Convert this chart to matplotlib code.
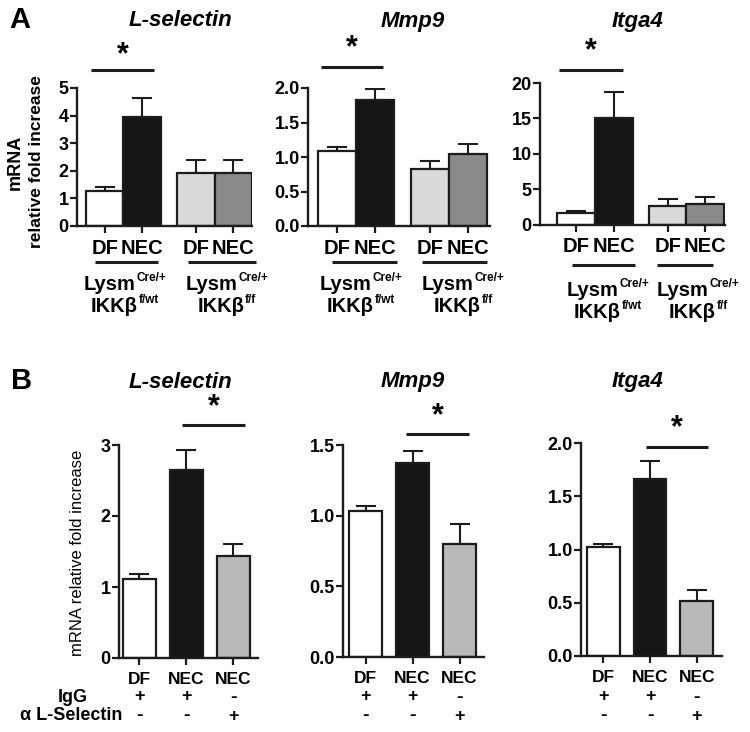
import matplotlib
matplotlib.use('Agg')
import matplotlib.pyplot as plt
import matplotlib.transforms as mtransforms
import numpy as np

plt.rcParams['font.family'] = ['Liberation Sans', 'DejaVu Sans']

# ---------------- data ----------------
genes = ['L-selectin', 'Mmp9', 'Itga4']

a_categories = ['DF', 'NEC', 'DF', 'NEC']
a_group_base = [('Lysm', 'IKKβ'), ('Lysm', 'IKKβ')]
a_group_sup = [('Cre/+', 'f/wt'), ('Cre/+', 'f/f')]
a_lselectin = [1.27, 3.94, 1.91, 1.93]
a_lselectin_err = [0.14, 0.71, 0.49, 0.47]
a_mmp9 = [1.08, 1.83, 0.83, 1.05]
a_mmp9_err = [0.06, 0.15, 0.11, 0.14]
a_itga4 = [1.73, 15.1, 2.67, 2.95]
a_itga4_err = [0.27, 3.7, 0.93, 1.02]
a_yticks = [[0, 1, 2, 3, 4, 5], [0.0, 0.5, 1.0, 1.5, 2.0], [0, 5, 10, 15, 20]]
a_ytick_fmt = ['{:.0f}', '{:.1f}', '{:.0f}']

b_categories = ['DF', 'NEC', 'NEC']
b_igg = ['+', '+', '-']
b_anti = ['-', '-', '+']
b_lselectin = [1.11, 2.65, 1.43]
b_lselectin_err = [0.08, 0.28, 0.17]
b_mmp9 = [1.036, 1.37, 0.80]
b_mmp9_err = [0.03, 0.09, 0.14]
b_itga4 = [1.02, 1.66, 0.52]
b_itga4_err = [0.03, 0.17, 0.10]
b_yticks = [[0, 1, 2, 3], [0.0, 0.5, 1.0, 1.5], [0.0, 0.5, 1.0, 1.5, 2.0]]
b_ytick_fmt = ['{:.0f}', '{:.1f}', '{:.1f}']

a_colors = ['#ffffff', '#151515', '#d9d9d9', '#8a8a8a']
b_colors = ['#ffffff', '#151515', '#b9b9b9']
EDGE = '#1c1c1c'

# ---------------- layout ----------------
W, H = 750, 732
fig = plt.figure(figsize=(W / 100, H / 100), dpi=100)
fig.patch.set_facecolor('white')
renderer = fig.canvas.get_renderer()


def fx(px):
    return px / W


def fy(py):
    return 1 - py / H


def ax_px(left, top, right, bottom):
    return fig.add_axes([fx(left), fy(bottom), (right - left) / W, (bottom - top) / H])


def style(ax, xlim, ylim, yticks, fmt, xpos, xlabels, xfs, yfs, xpad):
    ax.set_xlim(*xlim)
    ax.set_ylim(*ylim)
    for s in ['top', 'right']:
        ax.spines[s].set_visible(False)
    for s in ['left', 'bottom']:
        ax.spines[s].set_linewidth(1.7)
        ax.spines[s].set_color(EDGE)
    ax.set_yticks(yticks)
    ax.set_yticklabels([fmt.format(v) for v in yticks], fontsize=yfs, fontweight='bold')
    ax.set_xticks(xpos)
    ax.set_xticklabels(xlabels, fontsize=xfs, fontweight='bold')
    ax.tick_params(axis='both', direction='out', length=5, width=1.6, color=EDGE)
    ax.tick_params(axis='x', pad=xpad)
    ax.tick_params(axis='y', pad=1)
    ax.patch.set_alpha(0)


def bars(ax, xpos, vals, errs, colors, width):
    ax.bar(xpos, vals, width=width, color=colors, edgecolor=EDGE, linewidth=1.6, zorder=2)
    ax.errorbar(xpos, vals, yerr=[np.zeros(len(vals)), errs], fmt='none', ecolor=EDGE,
                elinewidth=1.5, capsize=7, capthick=1.5, zorder=1)


def sig(ax, x1, x2, y, ystar):
    ax.plot([x1, x2], [y, y], color=EDGE, lw=2.2, clip_on=False, solid_capstyle='butt')
    ax.text((x1 + x2) / 2, ystar, '*', ha='center', va='center', fontsize=22,
            fontweight='bold', clip_on=False)


def sup_label(ax, xdata, ypx, base, sup, fb=14.5, fs=8.5, raise_px=6):
    cx = ax.transData.transform((xdata, 0))[0]
    t1 = fig.text(0, fy(ypx), base, fontsize=fb, fontweight='bold', ha='left', va='center')
    t2 = fig.text(0, fy(ypx - raise_px), sup, fontsize=fs, fontweight='bold',
                  ha='left', va='center')
    w1 = t1.get_window_extent(renderer).width
    w2 = t2.get_window_extent(renderer).width
    x0 = cx - (w1 + 1 + w2) / 2
    t1.set_x(x0 / W)
    t2.set_x((x0 + w1 + 1) / W)


# ---------------- Panel A ----------------
a_pos = [0, 1, 2.43, 3.43]
a_vals = [a_lselectin, a_mmp9, a_itga4]
a_errs = [a_lselectin_err, a_mmp9_err, a_itga4_err]
a_boxes = [(77, 88, 252, 226), (308, 88, 490, 226), (540, 83, 725, 225)]
a_xlims = [(-0.74, 3.93), (-0.76, 4.0), (-0.95, 3.95)]
a_ylims = [(0, 5), (0, 2), (0, 20)]
a_sig = [(-0.37, 1.31, 5.65, 6.2), (-0.42, 1.20, 2.30, 2.57), (-0.45, 1.25, 21.8, 24.5)]
a_lines = [[(-0.26, 1.42), (2.22, 4.03)], [(-0.13, 1.57), (2.22, 3.92)],
           [(-0.10, 1.57), (2.15, 3.64)]]
a_textx = [(0.54, 3.26), (0.63, 3.30), (0.85, 3.24)]
a_texty = [(262, 284, 306), (262, 284, 306), (265, 290, 312)]
a_title_x = [180, 413, 638]

for i in range(3):
    ax = ax_px(*a_boxes[i])
    bars(ax, a_pos, a_vals[i], a_errs[i], a_colors, 1.0)
    style(ax, a_xlims[i], a_ylims[i], a_yticks[i], a_ytick_fmt[i], a_pos,
          a_categories, 14.5, 13, 4)
    x1, x2, y, ys = a_sig[i]
    sig(ax, x1, x2, y, ys)
    tr = mtransforms.blended_transform_factory(ax.transData, fig.transFigure)
    ly, ty1, ty2 = a_texty[i]
    for g in range(2):
        lx1, lx2 = a_lines[i][g]
        ax.plot([lx1, lx2], [fy(ly), fy(ly)], transform=tr, color=EDGE, lw=2.2,
                clip_on=False, solid_capstyle='butt')
        sup_label(ax, a_textx[i][g], ty1, a_group_base[g][0], a_group_sup[g][0])
        sup_label(ax, a_textx[i][g], ty2, a_group_base[g][1], a_group_sup[g][1])
    fig.text(fx(a_title_x[i]), fy(21), genes[i], ha='center', va='center',
             fontsize=16, fontweight='bold', fontstyle='italic')

fig.text(fx(20), fy(20), 'A', ha='center', va='center', fontsize=21, fontweight='bold')
fig.text(fx(15), fy(162), 'mRNA', rotation=90, ha='center', va='center',
         fontsize=13, fontweight='bold')
fig.text(fx(37), fy(162), 'relative fold increase', rotation=90, ha='center',
         va='center', fontsize=12.5, fontweight='bold')

# ---------------- Panel B ----------------
b_pos = [0, 1, 2]
b_vals = [b_lselectin, b_mmp9, b_itga4]
b_errs = [b_lselectin_err, b_mmp9_err, b_itga4_err]
b_boxes = [(119, 445, 258, 658), (343, 445, 484, 657), (581, 443, 722, 656)]
b_xlims = [(-0.43, 2.52), (-0.48, 2.52), (-0.48, 2.54)]
b_ylims = [(0, 3), (0, 1.5), (0, 2)]
b_sig = [(0.91, 2.24, 3.28, 3.53), (0.87, 2.20, 1.576, 1.70), (0.91, 2.24, 1.965, 2.14)]
b_title_x = [180, 413, 638]


def sign(ax, tr, x, ypx, s):
    ax.text(x, fy(ypx), s, transform=tr, ha='center', va='center',
            fontsize=14 if s == '-' else 13, fontweight='bold')


for i in range(3):
    ax = ax_px(*b_boxes[i])
    bars(ax, b_pos, b_vals[i], b_errs[i], b_colors, 0.7)
    style(ax, b_xlims[i], b_ylims[i], b_yticks[i], b_ytick_fmt[i], b_pos,
          b_categories, 12.5, 13, 5)
    x1, x2, y, ys = b_sig[i]
    sig(ax, x1, x2, y, ys)
    tr = mtransforms.blended_transform_factory(ax.transData, fig.transFigure)
    for j in range(3):
        sign(ax, tr, b_pos[j], 697, b_igg[j])
        sign(ax, tr, b_pos[j], 716, b_anti[j])
    fig.text(fx(b_title_x[i]), fy(382), genes[i], ha='center', va='center',
             fontsize=16, fontweight='bold', fontstyle='italic')

fig.text(fx(22), fy(381), 'B', ha='center', va='center', fontsize=21, fontweight='bold')
fig.text(fx(78), fy(553), 'mRNA relative fold increase', rotation=90, ha='center',
         va='center', fontsize=12)
fig.text(fx(88), fy(697), 'IgG', ha='right', va='center', fontsize=13, fontweight='bold')
fig.text(fx(122), fy(716), 'α L-Selectin', ha='right', va='center', fontsize=13,
         fontweight='bold')

fig.savefig('out.png', dpi=100, facecolor='white')
